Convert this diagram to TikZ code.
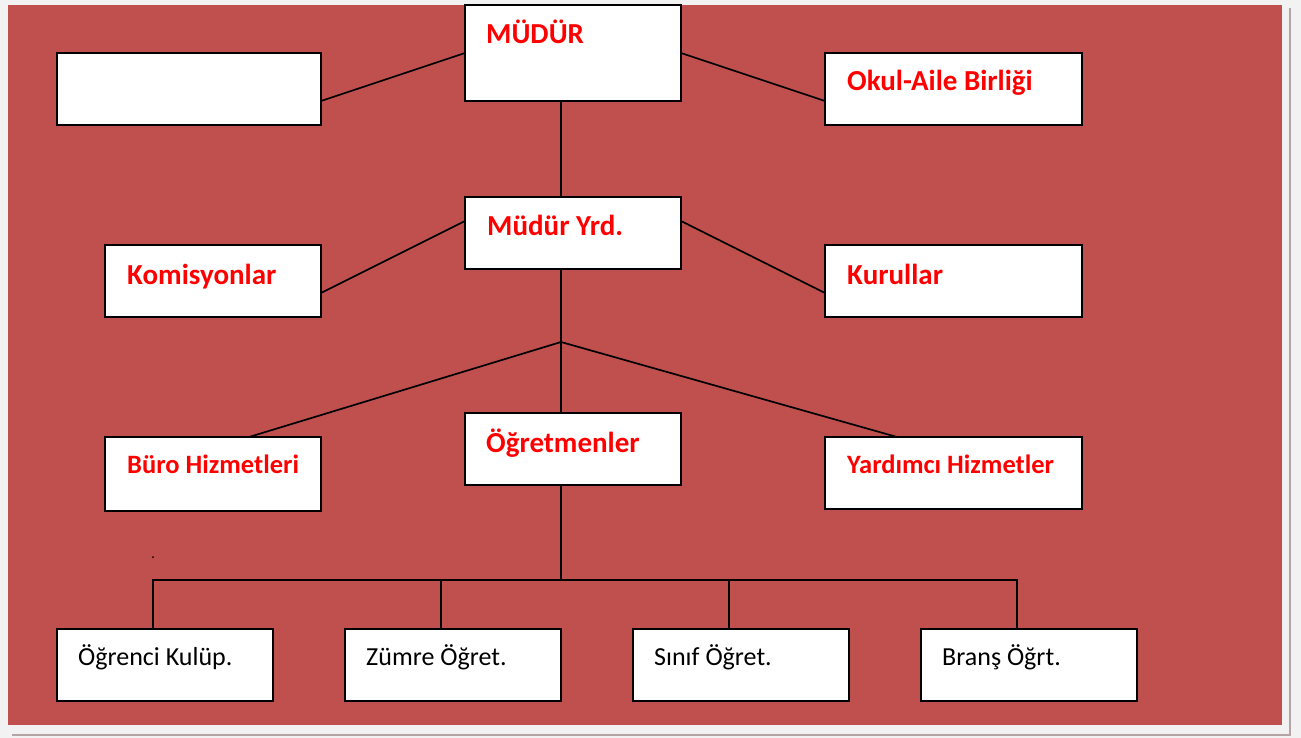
\documentclass[tikz,border=0pt]{standalone}
\usepackage{fontspec}
\setmainfont{Carlito}
\usetikzlibrary{calc}
\definecolor{bgred}{HTML}{C0504D}
\definecolor{pagegray}{HTML}{F2F2F2}
\definecolor{shadowgray}{HTML}{B4A4A4}
\definecolor{txtred}{HTML}{FF0000}
\tikzset{
  box/.style={draw=black, line width=1.8pt, fill=white, anchor=north west, inner sep=0pt, outer sep=0pt},
  head/.style={anchor=base west, inner sep=0pt, text=txtred, font=\fontsize{29}{34}\selectfont\bfseries},
  headsm/.style={anchor=base west, inner sep=0pt, text=txtred, font=\fontsize{26.5}{31}\selectfont\bfseries},
  low/.style={anchor=base west, inner sep=0pt, text=black, font=\fontsize{26}{30}\selectfont},
  conn/.style={draw=black, line width=1.7pt},
}
\begin{document}
\begin{tikzpicture}[x=1pt,y=-1pt]
\useasboundingbox (0,0) rectangle (1301,738);
\fill[pagegray] (0,0) rectangle (1301,738);
\draw[shadowgray, line width=2pt] (12,735) -- (1290,735) -- (1290,8);
\fill[bgred] (8,5) rectangle (1282,725);

% boxes
\node[box, minimum width=216pt, minimum height=96pt] (mudur) at (465,5) {};
\node[box, minimum width=264pt, minimum height=72pt] (empty) at (57,53) {};
\node[box, minimum width=257pt, minimum height=72pt] (okul) at (825,53) {};
\node[box, minimum width=216pt, minimum height=72pt] (yrd) at (465,197) {};
\node[box, minimum width=216pt, minimum height=72pt] (komis) at (105,245) {};
\node[box, minimum width=257pt, minimum height=72pt] (kurul) at (825,245) {};
\node[box, minimum width=216pt, minimum height=72pt] (ogrt) at (465,413) {};
\node[box, minimum width=216pt, minimum height=74pt] (buro) at (105,437) {};
\node[box, minimum width=257pt, minimum height=72pt] (yard) at (825,437) {};
\node[box, minimum width=216pt, minimum height=72pt] (b1) at (57,629) {};
\node[box, minimum width=216pt, minimum height=72pt] (b2) at (345,629) {};
\node[box, minimum width=216pt, minimum height=72pt] (b3) at (633,629) {};
\node[box, minimum width=216pt, minimum height=72pt] (b4) at (921,629) {};

% texts
\node[head] (mudur-t) at (486,44) {MÜDÜR};
\node[head] (okul-t) at (847,91) {Okul-Aile Birliği};
\node[head] (yrd-t) at (487,236) {Müdür Yrd.};
\node[head] (komis-t) at (127,284) {Komisyonlar};
\node[head] (kurul-t) at (847,284) {Kurullar};
\node[head] (ogrt-t) at (486,452) {Öğretmenler};
\node[headsm] (buro-t) at (127,473) {Büro Hizmetleri};
\node[headsm] (yard-t) at (847,473) {Yardımcı Hizmetler};
\node[low] (b1-t) at (78,665) {Öğrenci Kulüp.};
\node[low] (b2-t) at (366,665) {Zümre Öğret.};
\node[low] (b3-t) at (654,665) {Sınıf Öğret.};
\node[low] (b4-t) at (942,665) {Branş Öğrt.};

% coordinates
\coordinate (junc) at (561,342);
\coordinate (bus) at (561,580);

% connectors
\draw[conn] ([yshift=-12pt]empty.east) -- (mudur.west);
\draw[conn] (mudur.east) -- ([yshift=-12pt]okul.west);
\draw[conn] ([xshift=-12pt]mudur.south) -- ([xshift=-12pt]yrd.north);
\draw[conn] ([yshift=12pt]yrd.west) -- ([yshift=-12pt]komis.east);
\draw[conn] ([yshift=12pt]yrd.east) -- ([yshift=-12pt]kurul.west);
\draw[conn] ([xshift=-12pt]yrd.south) -- (junc) -- ([xshift=-12pt]ogrt.north);
\draw[conn] (junc) -- ([xshift=36pt]buro.north);
\draw[conn] (junc) -- ([xshift=-56.5pt]yard.north);
\draw[conn] ([xshift=-12pt]ogrt.south) -- (bus);
\draw[conn] ([xshift=-12pt]b1.north) |- (bus);
\draw[conn] ([xshift=-12pt]b2.north) |- (bus);
\draw[conn] ([xshift=-12pt]b3.north) |- (bus);
\draw[conn] ([xshift=-12pt]b4.north) |- (bus);

% small dot
\fill[black] (153,557) circle (1pt);
\end{tikzpicture}
\end{document}
